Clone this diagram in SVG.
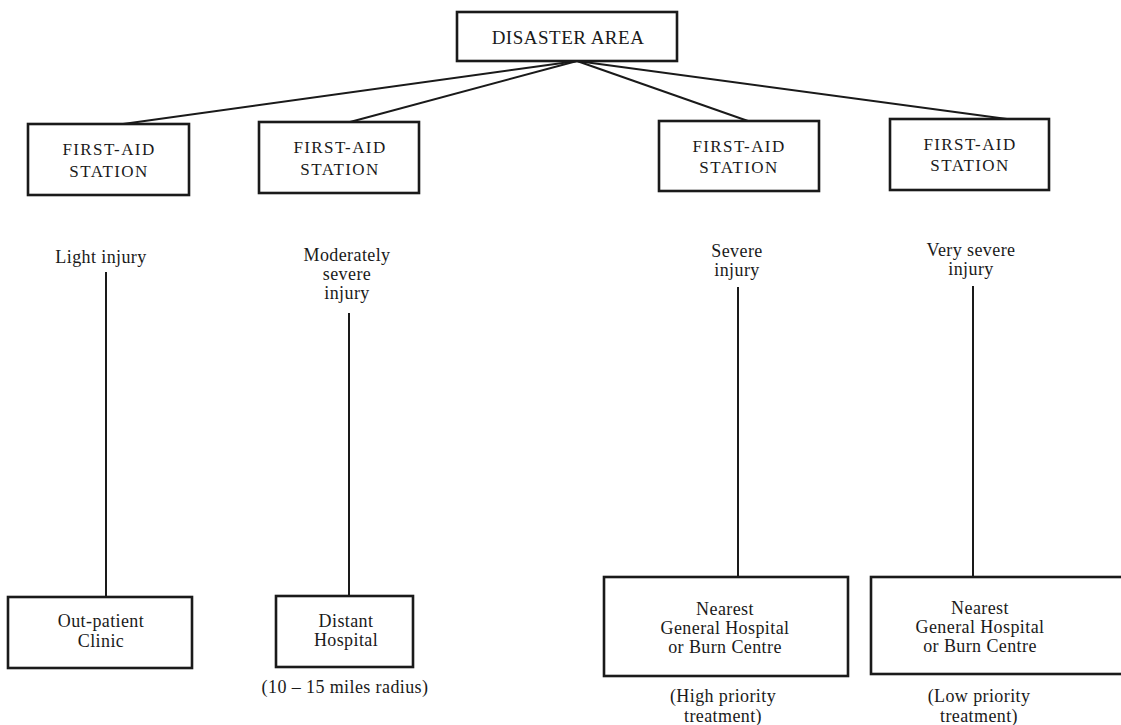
<svg xmlns="http://www.w3.org/2000/svg" width="1121" height="725" viewBox="0 0 1121 725">
<style>
.box{fill:#fff;stroke:#1a1a1a;stroke-width:2.6}
.ln{stroke:#1a1a1a;stroke-width:2;fill:none}
text{font-family:"Liberation Serif","Times New Roman",serif;fill:#1a1a1a;text-anchor:middle}
.cap{font-size:17px;letter-spacing:1.4px}
.big{font-size:19px;letter-spacing:0.5px}
.t{font-size:18px;letter-spacing:0.4px}
</style>
<rect width="1121" height="725" fill="#fff"/>
<g id="connectors">
<line class="ln" x1="577" y1="61" x2="123" y2="124"/>
<line class="ln" x1="577" y1="61" x2="350" y2="122"/>
<line class="ln" x1="577" y1="61" x2="748" y2="121"/>
<line class="ln" x1="577" y1="61" x2="1007" y2="119"/>
<line class="ln" x1="106" y1="272" x2="106" y2="597"/>
<line class="ln" x1="349" y1="313" x2="349" y2="596"/>
<line class="ln" x1="738" y1="287" x2="738" y2="577"/>
<line class="ln" x1="973" y1="286" x2="973" y2="577"/>
</g>
<g id="disaster-area">
<rect class="box" x="457" y="12" width="220" height="49"/>
<text class="big" x="568" y="44">DISASTER AREA</text>
</g>
<g id="station1">
<rect class="box" x="28" y="124" width="161" height="71"/>
<text class="cap" x="109" y="155">FIRST-AID</text>
<text class="cap" x="109" y="177">STATION</text>
</g>
<g id="station2">
<rect class="box" x="259" y="122" width="160" height="71"/>
<text class="cap" x="340" y="153">FIRST-AID</text>
<text class="cap" x="340" y="175">STATION</text>
</g>
<g id="station3">
<rect class="box" x="659" y="121" width="160" height="70"/>
<text class="cap" x="739" y="152">FIRST-AID</text>
<text class="cap" x="739" y="173">STATION</text>
</g>
<g id="station4">
<rect class="box" x="890" y="119" width="159" height="71"/>
<text class="cap" x="970" y="150">FIRST-AID</text>
<text class="cap" x="970" y="171">STATION</text>
</g>
<g id="label-light">
<text class="t" x="101" y="263">Light injury</text>
</g>
<g id="label-moderate">
<text class="t" x="347" y="261">Moderately</text>
<text class="t" x="347" y="280">severe</text>
<text class="t" x="347" y="299">injury</text>
</g>
<g id="label-severe">
<text class="t" x="737" y="257">Severe</text>
<text class="t" x="737" y="276">injury</text>
</g>
<g id="label-very-severe">
<text class="t" x="971" y="256">Very severe</text>
<text class="t" x="971" y="275">injury</text>
</g>
<g id="outpatient">
<rect class="box" x="8" y="597" width="184" height="71"/>
<text class="t" x="101" y="627">Out-patient</text>
<text class="t" x="101" y="647">Clinic</text>
</g>
<g id="distant-hospital">
<rect class="box" x="276" y="596" width="137" height="71"/>
<text class="t" x="346" y="627">Distant</text>
<text class="t" x="346" y="646">Hospital</text>
<text class="t" x="345" y="693">(10 – 15 miles radius)</text>
</g>
<g id="nearest-high">
<rect class="box" x="604" y="577" width="244" height="99"/>
<text class="t" x="725" y="615">Nearest</text>
<text class="t" x="725" y="634">General Hospital</text>
<text class="t" x="725" y="653">or Burn Centre</text>
<text class="t" x="723" y="702">(High priority</text>
<text class="t" x="723" y="722">treatment)</text>
</g>
<g id="nearest-low">
<rect class="box" x="871" y="577" width="256" height="97"/>
<text class="t" x="980" y="614">Nearest</text>
<text class="t" x="980" y="633">General Hospital</text>
<text class="t" x="980" y="652">or Burn Centre</text>
<text class="t" x="979" y="702">(Low priority</text>
<text class="t" x="979" y="722">treatment)</text>
</g>
</svg>
